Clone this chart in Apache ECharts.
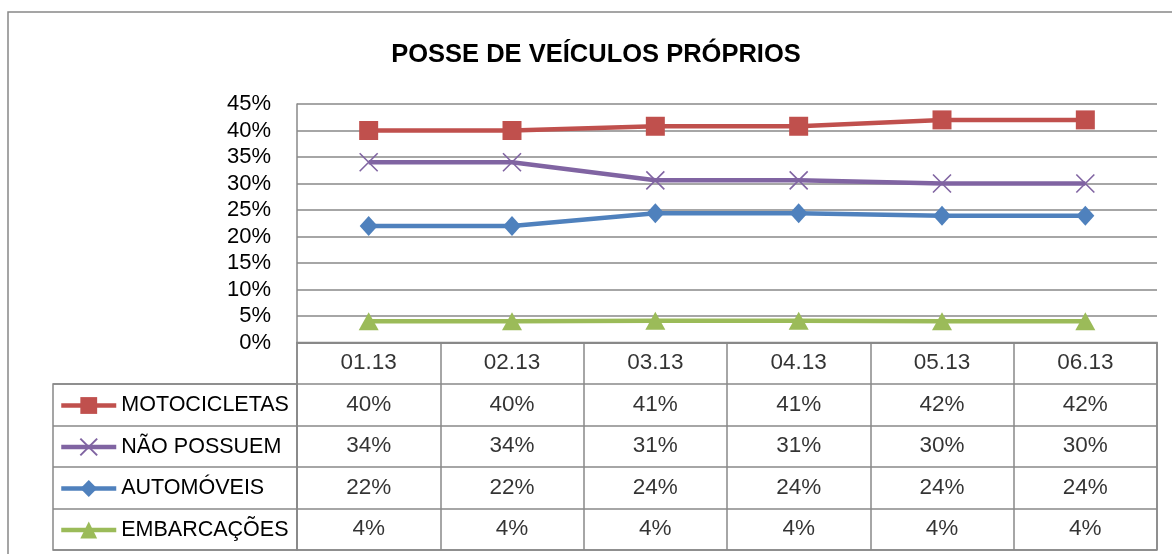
<!DOCTYPE html>
<html>
<head>
<meta charset="utf-8">
<script src="https://cdn.jsdelivr.net/npm/echarts@6/dist/echarts.min.js"></script>
<style>
html,body{margin:0;padding:0;background:#fff;}
#chart{width:1172px;height:554px;}
</style>
</head>
<body>
<div id="chart"></div>
<script>
const title = 'POSSE DE VEÍCULOS PRÓPRIOS';
const categories = ['01.13', '02.13', '03.13', '04.13', '05.13', '06.13'];
const seriesNames = ['MOTOCICLETAS', 'NÃO POSSUEM', 'AUTOMÓVEIS', 'EMBARCAÇÕES'];
const motocicletas = [40, 40, 40.8, 40.8, 42, 42];
const naoPossuem = [34, 34, 30.6, 30.6, 30, 30];
const automoveis = [22, 22, 24.4, 24.4, 23.9, 23.9];
const embarcacoes = [4, 4, 4.1, 4.1, 4, 4];
const yMin = 0, yMax = 45, yStep = 5;

const colors = ['#C0504D', '#8064A2', '#4F81BD', '#9BBB59'];
const values = [motocicletas, naoPossuem, automoveis, embarcacoes];
const symbols = ['rect', 'path://M0,0L10,10M10,0L0,10', 'diamond', 'triangle'];
const symbolSizes = [19, 18, [18, 20], [20, 18]];
const FONT = 'Liberation Sans';
const GRID = '#888888';
const TXT = '#000';

const chart = echarts.init(document.getElementById('chart'), null, {renderer: 'canvas'});

const lineSeries = seriesNames.map((name, s) => ({
  name: name,
  type: 'line',
  xAxisIndex: 0, yAxisIndex: 0,
  data: values[s],
  symbol: symbols[s],
  symbolSize: symbolSizes[s],
  showAllSymbol: true,
  z: 5,
  lineStyle: {color: colors[s], width: 4.5},
  itemStyle: s === 1
    ? {color: colors[s], borderColor: colors[s], borderWidth: 1.6}
    : {color: colors[s], borderWidth: 0},
  emphasis: {disabled: true},
  animation: false
}));

const labelStyle = {show: true, position: 'inside', color: TXT, fontFamily: FONT, fontSize: 22.5};

const headerSeries = {
  type: 'scatter', xAxisIndex: 1, yAxisIndex: 1,
  symbolSize: 1, itemStyle: {color: 'rgba(0,0,0,0)'},
  data: categories.map((c, i) => [i, 0]),
  label: Object.assign({}, labelStyle, {formatter: p => categories[p.data[0]]}),
  silent: true, animation: false
};

const tableSeries = seriesNames.map((name, s) => ({
  type: 'scatter', xAxisIndex: 1, yAxisIndex: 1,
  symbolSize: 1, itemStyle: {color: 'rgba(0,0,0,0)'},
  data: values[s].map((v, i) => [i, s + 1, v]),
  label: Object.assign({}, labelStyle, {formatter: p => Math.round(p.data[2]) + '%'}),
  silent: true, animation: false
}));

const option = {
  backgroundColor: '#fff',
  animation: false,
  title: {
    text: title, left: 591, top: 37, textAlign: 'center',
    textStyle: {fontFamily: FONT, fontWeight: 'bold', fontSize: 25.5, color: TXT}
  },
  legend: {
    data: seriesNames,
    orient: 'vertical',
    left: 59, top: 393.5,
    padding: 0,
    itemWidth: 55, itemHeight: 21, itemGap: 17.5,
    selectedMode: false,
    lineStyle: {width: 4.5},
    textStyle: {fontFamily: FONT, fontSize: 21.5, color: TXT, lineHeight: 24}
  },
  grid: [
    {left: 297, top: 104, width: 860, height: 238.5},
    {left: 297, top: 342.5, width: 860, height: 207.5, show: true, borderColor: GRID, borderWidth: 1.5},
    {left: 53, top: 384, width: 244, height: 166, show: true, borderColor: GRID, borderWidth: 1.5}
  ],
  xAxis: [
    {gridIndex: 0, type: 'category', data: categories, boundaryGap: true,
     axisLine: {show: true, lineStyle: {color: GRID, width: 1.5}},
     axisTick: {show: false}, axisLabel: {show: false}, splitLine: {show: false}},
    {gridIndex: 1, type: 'category', data: categories, boundaryGap: true,
     axisLine: {show: false}, axisTick: {show: false}, axisLabel: {show: false},
     splitLine: {show: true, lineStyle: {color: GRID, width: 1.5}}},
    {gridIndex: 2, type: 'value', min: 0, max: 1, show: false, splitLine: {show: false}}
  ],
  yAxis: [
    {gridIndex: 0, type: 'value', min: yMin, max: yMax, interval: yStep,
     axisLine: {show: true, lineStyle: {color: GRID, width: 1.5}},
     axisTick: {show: false},
     axisLabel: {formatter: '{value}%', fontFamily: FONT, fontSize: 22, color: TXT, margin: 26,
                 padding: [3, 0, 0, 0]},
     splitLine: {show: true, lineStyle: {color: GRID, width: 1.5}}},
    {gridIndex: 1, type: 'category', data: [''].concat(seriesNames), inverse: true, boundaryGap: true,
     axisLine: {show: false}, axisTick: {show: false}, axisLabel: {show: false},
     splitLine: {show: true, lineStyle: {color: GRID, width: 1.5}}},
    {gridIndex: 2, type: 'category', data: seriesNames, inverse: true, boundaryGap: true,
     axisLine: {show: false}, axisTick: {show: false}, axisLabel: {show: false},
     splitLine: {show: true, lineStyle: {color: GRID, width: 1.5}}}
  ],
  graphic: [
    {type: 'rect', z: -10, silent: true, shape: {x: 8, y: 12, width: 1200, height: 600},
     style: {fill: 'none', stroke: GRID, lineWidth: 1.5}}
  ],
  series: lineSeries.concat([headerSeries], tableSeries)
};

chart.setOption(option);
</script>
</body>
</html>
